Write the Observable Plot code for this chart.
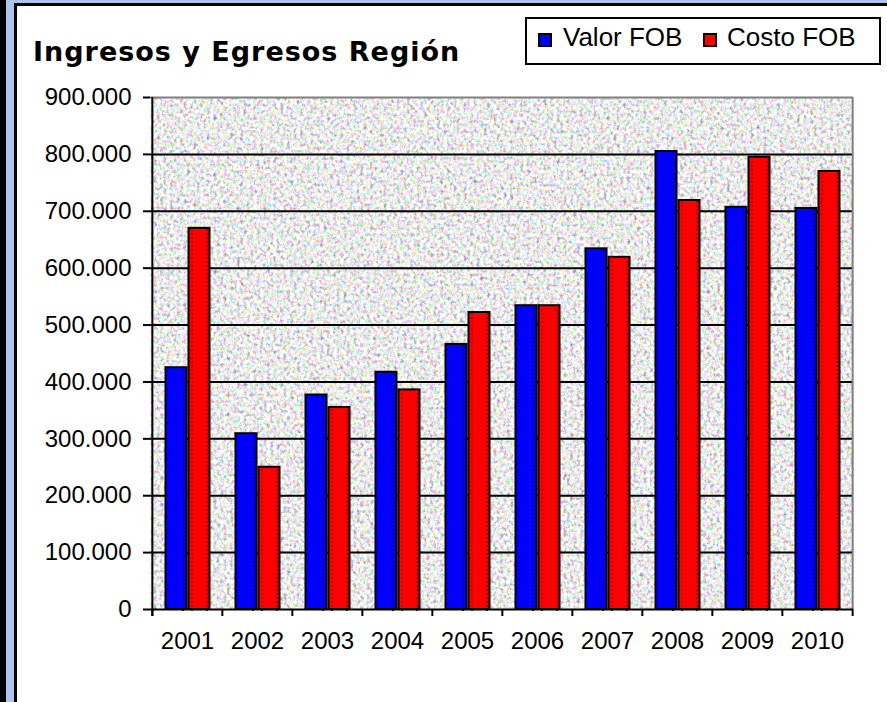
<!DOCTYPE html>
<html>
<head>
<meta charset="utf-8">
<script src="https://cdn.jsdelivr.net/npm/d3@7"></script>
<script src="https://cdn.jsdelivr.net/npm/@observablehq/plot@0.6"></script>
<style>
  html, body { margin: 0; padding: 0; background: #fff; }
  #page { position: relative; width: 887px; height: 702px; overflow: hidden; background: #fff; }
  .blk { position: absolute; }
  #title { position: absolute; left: 33px; top: 38px; font-family: "DejaVu Sans", sans-serif; font-weight: bold; font-size: 27px; line-height: 27px; letter-spacing: 1px; white-space: nowrap; color: #000; }
  #legend { position: absolute; left: 525px; top: 17px; width: 352px; height: 44px; border: 2px solid #000; background: #fff; }
  .sw { position: absolute; top: 14px; width: 10px; height: 10px; border: 2px solid #000; }
  .lt { position: absolute; top: 5px; font-family: "Liberation Sans", Arial, sans-serif; font-size: 26px; line-height: 26px; white-space: nowrap; color: #000; }
  #chart { position: absolute; left: 0; top: 0; }
</style>
</head>
<body>
<div id="page">
  <div class="blk" style="left:0;top:0;width:887px;height:3px;background:#aec3e9"></div>
  <div class="blk" style="left:0;top:0;width:6px;height:702px;background:#000"></div>
  <div class="blk" style="left:6px;top:0;width:8px;height:702px;background:#aec3e9"></div>
  <div class="blk" style="left:14px;top:3px;width:873px;height:3px;background:#000"></div>
  <div class="blk" style="left:14px;top:3px;width:3px;height:699px;background:#000"></div>
  <div id="chart"></div>
  <div id="title">Ingresos y Egresos Región</div>
  <div id="legend"></div>
</div>
<script>
// ---- data ----
const years = ["2001","2002","2003","2004","2005","2006","2007","2008","2009","2010"];
const valorFOB = [425000, 309000, 377000, 417000, 466000, 534000, 634000, 805000, 707000, 705000];
const costoFOB = [670000, 250000, 355000, 386000, 522000, 534000, 619000, 719000, 795000, 770000];
const seriesNames = ["Valor FOB", "Costo FOB"];
const seriesColors = ["#0000ff", "#ff0000"];
const yTicks = [0, 100000, 200000, 300000, 400000, 500000, 600000, 700000, 800000, 900000];

const table = years.map((year, i) => ({year, valor: valorFOB[i], costo: costoFOB[i]}));

const W = 887, H = 702;
const mL = 150, mR = 34, mT = 97, mB = 93;
const step = (W - mL - mR) / years.length;
const frameH = H - mT - mB;

const fmt = d3.formatLocale({decimal: ",", thousands: ".", grouping: [3], currency: ["", ""]}).format(",");

const chart = Plot.plot({
  width: W, height: H,
  marginLeft: mL, marginRight: mR, marginTop: mT, marginBottom: mB,
  style: {fontFamily: "'Liberation Sans', Arial, sans-serif", fontSize: "24px", color: "#000", background: "transparent", overflow: "visible"},
  x: {type: "band", domain: years, padding: 0, label: null},
  y: {domain: [0, 900000], label: null},
  marks: [
    Plot.frame({fill: "#e8e8e8", stroke: null, className: "bgtex"}),
    Plot.ruleY(yTicks.filter(v => v > 0 && v < 900000), {stroke: "#000", strokeWidth: 2}),
    Plot.ruleY([900000], {stroke: "#808080", strokeWidth: 2}),
    Plot.ruleX([years[years.length - 1]], {dx: step / 2, stroke: "#808080", strokeWidth: 2}),
    Plot.barY(table, {x: "year", y: "valor", fill: seriesColors[0], stroke: "#000", strokeWidth: 2, insetLeft: 13.5, insetRight: step - 34.8}),
    Plot.barY(table, {x: "year", y: "costo", fill: seriesColors[1], stroke: "#000", strokeWidth: 2, insetLeft: 36.5, insetRight: step - 57.8}),
    Plot.ruleX(table, {x: "year", y1: 0, y2: "valor", dx: -4.5, stroke: "#0000a8", strokeWidth: 2, strokeDasharray: "2,2", insetTop: 2}),
    Plot.ruleX(table, {x: "year", y1: 0, y2: "costo", dx: 4.5, stroke: "#b00000", strokeWidth: 2, strokeDasharray: "2,2", insetTop: 2}),
    Plot.ruleX(table, {x: "year", y1: 0, y2: "costo", dx: 19.5, stroke: "#b00000", strokeWidth: 2, strokeDasharray: "2,2", insetTop: 2}),
    Plot.ruleY([0], {stroke: "#000", strokeWidth: 2}),
    Plot.ruleX([years[0]], {dx: -step / 2, stroke: "#000", strokeWidth: 2, insetBottom: -7}),
    Plot.ruleX(years, {x: d => d, dx: -step / 2, stroke: "#000", strokeWidth: 2, insetTop: frameH, insetBottom: -7}),
    Plot.ruleX([years[years.length - 1]], {dx: step / 2, stroke: "#000", strokeWidth: 2, insetTop: frameH, insetBottom: -7}),
    Plot.axisY({ticks: yTicks, tickFormat: fmt, tickSize: 7, tickPadding: 12, stroke: "#000", strokeWidth: 2, label: null}),
    Plot.axisX({tickSize: 0, tickPadding: 22, label: null})
  ]
});

// background texture (speckled grey like the original)
const svg = d3.select(chart);
const defs = svg.insert("defs", ":first-child");
const f = defs.append("filter").attr("id", "tex").attr("x", 0).attr("y", 0).attr("width", 1).attr("height", 1)
  .attr("color-interpolation-filters", "sRGB");
f.append("feTurbulence").attr("type", "fractalNoise").attr("baseFrequency", 0.3).attr("numOctaves", 3).attr("seed", 7).attr("result", "n");
f.append("feColorMatrix").attr("in", "n").attr("type", "matrix")
  .attr("values", "0.8 0 0 0.55 0.25  0 0.8 0 0.55 0.25  0 0 0.8 0.55 0.25  0 0 0 0 1").attr("result", "c");
f.append("feComposite").attr("in", "c").attr("in2", "SourceGraphic").attr("operator", "in");
svg.selectAll("[aria-label=frame]").attr("filter", "url(#tex)");

document.getElementById("chart").appendChild(chart);

// legend
const legend = document.getElementById("legend");
const swX = [11, 176], txX = [36, 200];
seriesNames.forEach((name, i) => {
  const sw = document.createElement("div");
  sw.className = "sw"; sw.style.left = swX[i] + "px"; sw.style.background = seriesColors[i];
  legend.appendChild(sw);
  const t = document.createElement("div");
  t.className = "lt"; t.style.left = txX[i] + "px"; t.textContent = name;
  legend.appendChild(t);
});
</script>
</body>
</html>
